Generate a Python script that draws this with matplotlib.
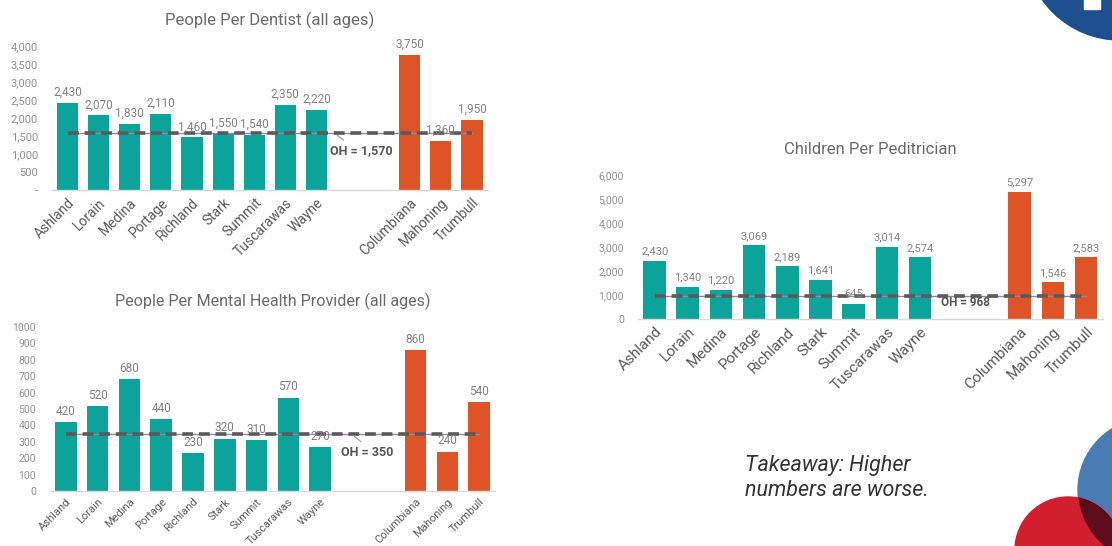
import numpy as np
import matplotlib.pyplot as plt
from matplotlib import font_manager
from matplotlib.patches import Circle, Rectangle

W, H = 1112, 546

counties_in = ["Ashland", "Lorain", "Medina", "Portage", "Richland", "Stark",
               "Summit", "Tuscarawas", "Wayne"]
counties_out = ["Columbiana", "Mahoning", "Trumbull"]

dentist_in = [2430, 2070, 1830, 2110, 1460, 1550, 1540, 2350, 2220]
dentist_out = [3750, 1360, 1950]
dentist_oh = 1570

mental_in = [420, 520, 680, 440, 230, 320, 310, 570, 270]
mental_out = [860, 240, 540]
mental_oh = 350

peds_in = [2430, 1340, 1220, 3069, 2189, 1641, 645, 3014, 2574]
peds_out = [5297, 1546, 2583]
peds_oh = 968

TEAL = "#0ca39a"
ORANGE = "#de5427"
GRID = "#d9d9d9"

avail = {f.name for f in font_manager.fontManager.ttflist}
fams = [f for f in ["Liberation Sans Narrow", "Roboto", "DejaVu Sans"] if f in avail]
plt.rcParams["font.family"] = fams


def px_axes(fig, x0, x1, ytop, ybot):
    return fig.add_axes([x0 / W, 1 - ybot / H, (x1 - x0) / W, (ybot - ytop) / H])


def oh_label(oh, fmt):
    return "OH = " + fmt(oh)


def bar_chart(ax, vin, vout, oh, ymax, yticks, ytick_labels, fmt, lab_size,
              xt_size, val_size, oh_xy, leader=None):
    names = counties_in + counties_out
    pos = list(range(len(counties_in))) + [len(counties_in) + 2 + i for i in range(len(counties_out))]
    vals = vin + vout
    cols = [TEAL] * len(vin) + [ORANGE] * len(vout)
    ax.bar(pos, vals, width=0.68, color=cols, zorder=2)
    for p, v in zip(pos, vals):
        ax.annotate(fmt(v), (p, v), xytext=(0, 3), textcoords="offset points",
                    ha="center", va="bottom", fontsize=val_size, color="#808080", zorder=4)
    ax.plot([pos[0], pos[-1]], [oh, oh], color="#a07fa8", lw=1, zorder=3)
    ax.plot([pos[0], pos[-1]], [oh, oh], color="#5a5a5a", lw=2.6, ls=(0, (3, 1.6)), zorder=3)
    if leader is not None:
        ax.annotate("", xy=leader[0], xytext=leader[1],
                    arrowprops=dict(arrowstyle="-", color="#9a9a9a", lw=0.8))
    ax.text(oh_xy[0], oh_xy[1], oh_label(oh, fmt), fontsize=val_size + 0.5, fontweight="bold",
            color="#555555", va="center", ha="left", zorder=5)
    ax.set_xlim(-0.5, pos[-1] + 0.5)
    ax.set_ylim(0, ymax)
    ax.set_yticks(yticks)
    ax.set_yticklabels(ytick_labels)
    ax.set_xticks(pos)
    ax.set_xticklabels(names, rotation=45, ha="right", rotation_mode="anchor")
    ax.tick_params(axis="x", length=0, pad=4, labelsize=xt_size, labelcolor="#5a5a5a")
    ax.tick_params(axis="y", length=0, pad=10, labelsize=lab_size, labelcolor="#8f8f8f")
    for s in ["top", "right", "left"]:
        ax.spines[s].set_visible(False)
    ax.spines["bottom"].set_color(GRID)
    ax.spines["bottom"].set_linewidth(1)
    ax.patch.set_alpha(0)


comma = lambda v: f"{v:,.0f}"
plain = lambda v: f"{v:.0f}"

fig = plt.figure(figsize=(W / 100, H / 100), dpi=100)
fig.patch.set_facecolor("white")

# dentist
ax1 = px_axes(fig, 52, 487.5, 46, 190)
t1 = [0, 500, 1000, 1500, 2000, 2500, 3000, 3500, 4000]
bar_chart(ax1, dentist_in, dentist_out, dentist_oh, 4000, t1,
          ["-"] + [comma(v) for v in t1[1:]], comma, 8, 10, 8.5, (8.45, 1090),
          leader=((8.6, 1560), (8.95, 1340)))
ax1.set_title("People Per Dentist (all ages)", fontsize=12, color="#6a6a6a", pad=15)

# mental health
ax2 = px_axes(fig, 50, 495, 327, 491)
t2 = list(range(0, 1001, 100))
bar_chart(ax2, mental_in, mental_out, mental_oh, 1000, t2, [plain(v) for v in t2],
          plain, 7.5, 8, 8.5, (8.65, 232), leader=((9.0, 345), (9.35, 290)))
ax2.set_title("People Per Mental Health Provider (all ages)", fontsize=11.6, color="#6a6a6a", pad=15)

# pediatrician
ax3 = px_axes(fig, 638, 1102.6, 175, 319)
t3 = list(range(0, 6001, 1000))
bar_chart(ax3, peds_in, peds_out, peds_oh, 6000, t3, [comma(v) for v in t3],
          comma, 7.5, 11, 8, (8.63, 667))
ax3.set_title("Children Per Peditrician", fontsize=12, color="#6a6a6a", pad=15)

fig.text(745 / W, 1 - 478 / H, "Takeaway: Higher\nnumbers are worse.", fontsize=15.5,
         style="italic", color="#333333", va="center", ha="left", linespacing=1.25)

# decorative circles
deco = fig.add_axes([0, 0, 1, 1])
deco.set_xlim(0, W)
deco.set_ylim(H, 0)
deco.axis("off")
deco.patch.set_alpha(0)
deco.add_patch(Circle((1120, -55), 95, color="#1d4f8f", zorder=1))
deco.add_patch(Rectangle((1084, -5), 16, 14, color="white", zorder=2))
blue = Circle((1150, 490), 72, color="#4a7cb4", zorder=1)
deco.add_patch(blue)
deco.add_patch(Circle((1068, 550), 53, color="#d21f30", zorder=2))
dark = Circle((1068, 550), 53, color="#5e0b1c", zorder=3)
deco.add_patch(dark)
dark.set_clip_path(blue)

fig.savefig("out.png", dpi=100)
